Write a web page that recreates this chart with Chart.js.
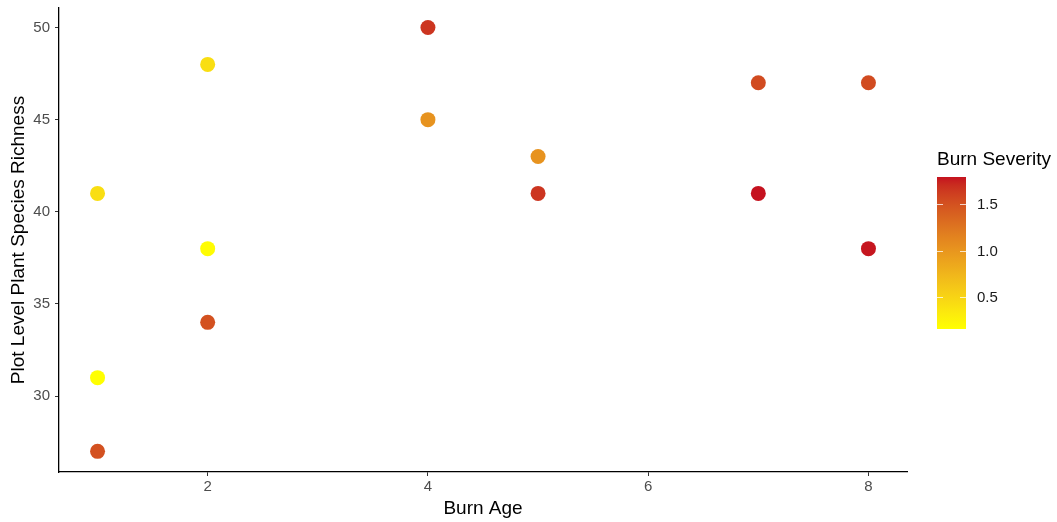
<!DOCTYPE html>
<html>
<head>
<meta charset="utf-8">
<script src="https://cdn.jsdelivr.net/npm/chart.js@4.4.1/dist/chart.umd.min.js"></script>
<style>
  body { margin: 0; background: #fff; }
  canvas { display: block; }
</style>
</head>
<body>
<canvas id="richnessChart" width="1057" height="522"></canvas>
<script>
// plot data: burn age, species richness and burn severity per plot
var burnAge  = [1, 1, 1, 2, 2, 2, 4, 4, 5, 5, 7, 7, 8, 8]
var richness = [41, 31, 27, 48, 38, 34, 50, 45, 43, 41, 47, 41, 47, 38]
var severity = [0.42, 0.16, 1.5, 0.42, 0.18, 1.5, 1.66, 1.02, 1.02, 1.66, 1.54, 1.79, 1.54, 1.78]

var xTicks = [2, 4, 6, 8]
var yTicks = [30, 35, 40, 45, 50]
var legendTicks = [0.5, 1.0, 1.5]

var lowColor = '#FFFF00'
var highColor = '#C5121F'

// colour ramp in CIELAB, like ggplot's gradient scale
function hexToRgb(h) {
    return [parseInt(h.substr(1, 2), 16), parseInt(h.substr(3, 2), 16), parseInt(h.substr(5, 2), 16)]
}
function toLinear(c) { c /= 255; return c <= 0.04045 ? c / 12.92 : Math.pow((c + 0.055) / 1.055, 2.4) }
function fromLinear(c) {
    c = c <= 0.0031308 ? 12.92 * c : 1.055 * Math.pow(c, 1 / 2.4) - 0.055
    return Math.max(0, Math.min(255, Math.round(c * 255)))
}
function rgbToLab(rgb) {
    var r = toLinear(rgb[0]), g = toLinear(rgb[1]), b = toLinear(rgb[2])
    var x = (0.4124 * r + 0.3576 * g + 0.1805 * b) / 0.95047
    var y = (0.2126 * r + 0.7152 * g + 0.0722 * b)
    var z = (0.0193 * r + 0.1192 * g + 0.9505 * b) / 1.08883
    var f = function (t) { return t > 0.008856 ? Math.cbrt(t) : 7.787 * t + 16 / 116 }
    var fx = f(x), fy = f(y), fz = f(z)
    return [116 * fy - 16, 500 * (fx - fy), 200 * (fy - fz)]
}
function labToRgb(lab) {
    var fy = (lab[0] + 16) / 116, fx = fy + lab[1] / 500, fz = fy - lab[2] / 200
    var inv = function (t) { return t * t * t > 0.008856 ? t * t * t : (t - 16 / 116) / 7.787 }
    var x = inv(fx) * 0.95047, y = inv(fy), z = inv(fz) * 1.08883
    var r = 3.2406 * x - 1.5372 * y - 0.4986 * z
    var g = -0.9689 * x + 1.8758 * y + 0.0415 * z
    var b = 0.0557 * x - 0.2040 * y + 1.0570 * z
    return 'rgb(' + fromLinear(r) + ',' + fromLinear(g) + ',' + fromLinear(b) + ')'
}
var labLow = rgbToLab(hexToRgb(lowColor))
var labHigh = rgbToLab(hexToRgb(highColor))
var sevMin = Math.min.apply(null, severity)
var sevMax = Math.max.apply(null, severity)

function severityColor(v) {
    var t = (v - sevMin) / (sevMax - sevMin)
    return labToRgb([0, 1, 2].map(function (i) { return labLow[i] + (labHigh[i] - labLow[i]) * t }))
}

points = []
for (var i = 0; i < burnAge.length; i++) {
    points.push({x: burnAge[i], y: richness[i]})
}
pointColors = severity.map(severityColor)

var fontFamily = '"Liberation Sans", Arial, sans-serif'

// colourbar legend on the right
var colorbarLegend = {
    id: 'colorbarLegend',
    afterDraw: function (chart) {
        var ctx = chart.ctx
        var left = 937, top = 177, w = 29, h = 152
        ctx.save()
        ctx.fillStyle = '#000'
        ctx.font = '19px ' + fontFamily
        ctx.textBaseline = 'alphabetic'
        ctx.textAlign = 'left'
        ctx.fillText('Burn Severity', left, 165)

        var grad = ctx.createLinearGradient(0, top + h, 0, top)
        for (var s = 0; s <= 20; s++) {
            grad.addColorStop(s / 20, severityColor(sevMin + (sevMax - sevMin) * s / 20))
        }
        ctx.fillStyle = grad
        ctx.fillRect(left, top, w, h)

        ctx.font = '15px ' + fontFamily
        ctx.textBaseline = 'middle'
        ctx.strokeStyle = 'rgba(255,255,255,0.75)'
        ctx.lineWidth = 1
        legendTicks.forEach(function (v) {
            var y = Math.round(top + h - (v - sevMin) / (sevMax - sevMin) * h) + 0.5
            ctx.beginPath()
            ctx.moveTo(left, y); ctx.lineTo(left + 6, y)
            ctx.moveTo(left + w - 6, y); ctx.lineTo(left + w, y)
            ctx.stroke()
            ctx.fillStyle = '#1a1a1a'
            ctx.fillText(v.toFixed(1), left + 40, y)
        })
        ctx.restore()
    }
}

var tickFont = {family: fontFamily, size: 15}
var titleFont = {family: fontFamily, size: 19}

new Chart(document.getElementById('richnessChart').getContext('2d'), {
    type: 'scatter',
    data: {
        datasets: [{
            label: 'Richness',
            data: points,
            pointRadius: 7.5,
            pointBorderWidth: 0,
            pointBackgroundColor: pointColors,
            pointBorderColor: pointColors
        }]
    },
    options: {
        responsive: false,
        animation: false,
        layout: {
            padding: {top: 8, right: 150, left: 0, bottom: 0}
        },
        plugins: {
            legend: {display: false},
            tooltip: {enabled: false}
        },
        scales: {
            x: {
                type: 'linear',
                min: 0.65,
                max: 8.35,
                afterBuildTicks: function (scale) {
                    scale.ticks = xTicks.map(function (v) { return {value: v} })
                },
                afterFit: function (scale) {
                    scale.height = 50
                    scale.paddingLeft = 0
                    scale.paddingRight = 0
                },
                ticks: {color: '#4D4D4D', font: tickFont, padding: 2, maxRotation: 0},
                grid: {drawOnChartArea: false, drawTicks: true, tickLength: 4, color: '#333', lineWidth: 1},
                border: {display: true, color: '#000', width: 1.3},
                title: {display: true, text: 'Burn Age', color: '#000', font: titleFont, padding: {top: 0, bottom: 2}}
            },
            y: {
                type: 'linear',
                min: 25.88,
                max: 51.06,
                afterBuildTicks: function (scale) {
                    scale.ticks = yTicks.map(function (v) { return {value: v} })
                },
                afterFit: function (scale) {
                    scale.width = 59
                    scale.paddingTop = 0
                    scale.paddingBottom = 0
                },
                ticks: {color: '#4D4D4D', font: tickFont, padding: 5},
                grid: {drawOnChartArea: false, drawTicks: true, tickLength: 4, color: '#333', lineWidth: 1},
                border: {display: true, color: '#000', width: 1.3},
                title: {display: true, text: 'Plot Level Plant Species Richness', color: '#000', font: titleFont, padding: {top: 7, bottom: 0}}
            }
        }
    },
    plugins: [colorbarLegend]
})
</script>
</body>
</html>
